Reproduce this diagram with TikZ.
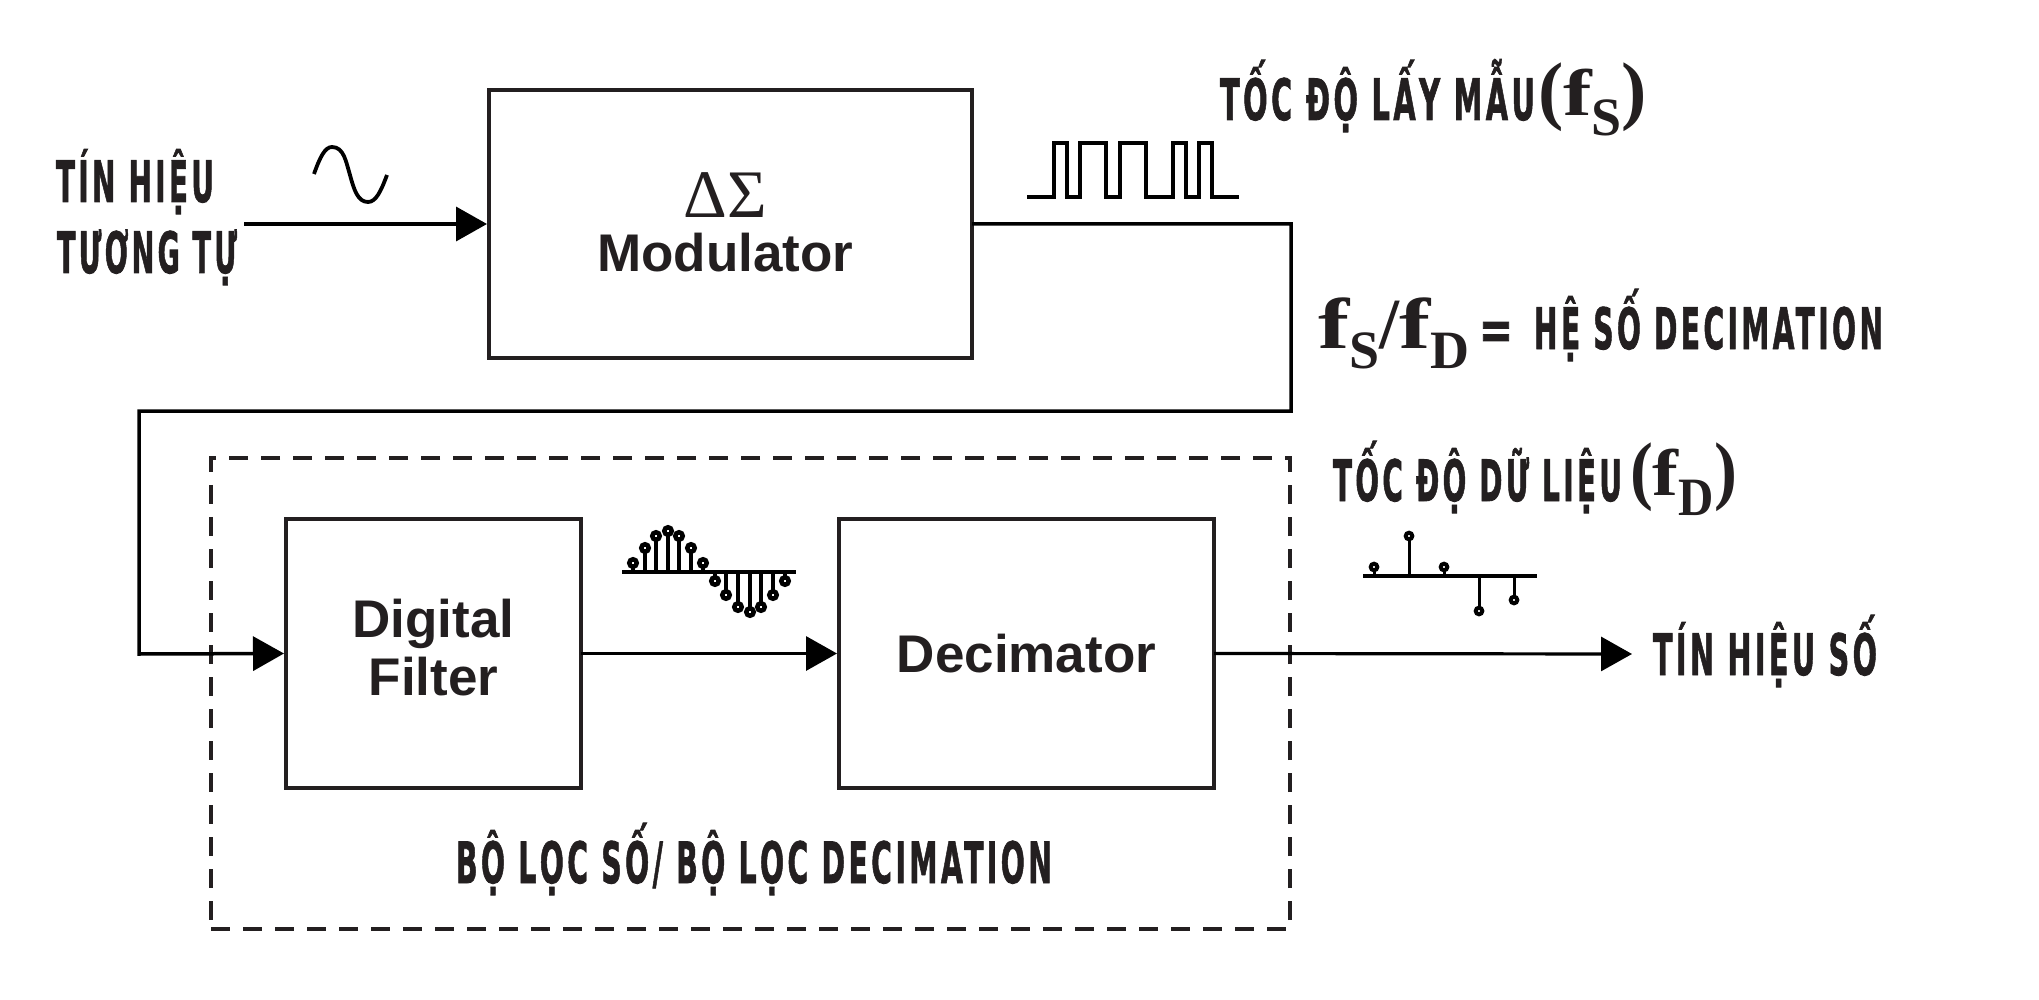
\documentclass[tikz,border=0pt]{standalone}
\usepackage{fontspec}
\usetikzlibrary{arrows.meta}
\setmainfont{Liberation Sans}
\newfontfamily\condfont[LetterSpace=12,FakeBold=1.6]{DejaVu Sans Bold}
\newfontfamily\serifreg{Liberation Serif}
\newfontfamily\serifbold{Liberation Serif Bold}
\definecolor{ink}{HTML}{231F20}
\newcommand{\cond}[2]{\resizebox{#1pt}{\height}{\condfont\fontsize{28.5}{30}\selectfont #2}}
\newcommand{\sfb}[2]{{\serifbold\fontsize{#1}{#1}\selectfont\scalebox{1.3}[1]{f}\raisebox{-10pt}{\fontsize{27}{27}\selectfont #2}}}
\tikzset{
  blockbox/.style={draw=ink,line width=1.6pt,outer sep=0pt,inner sep=0pt,align=center,text=ink,font=\bfseries\fontsize{26.5}{29}\selectfont},
  dashbox/.style={draw=ink,line width=1.7pt,outer sep=0pt,inner sep=0pt,dash pattern=on 9.6pt off 6.4pt},
  label/.style={text=ink,anchor=base west,inner sep=0pt,outer sep=0pt},
  wire/.style={line width=1.75pt,black},
  arrowed/.style={wire,-{Triangle[length=15.5pt,width=17pt]},shorten >=1pt},
  thinarrowed/.style={arrowed,line width=1.6pt},
  glyph/.style={line width=1.9pt,black},
  stemA/.style={line width=1.75pt,black},
  headA/.style={line width=2.25pt,black,fill=white},
  stemB/.style={line width=1.5pt,black},
  headB/.style={line width=2pt,black,fill=white}
}
\begin{document}
\begin{tikzpicture}[x=0.5pt,y=-0.5pt]
\useasboundingbox (0,0) rectangle (2039,1000);
% blocks
\node[dashbox,minimum width=539.5pt,minimum height=235.5pt] (dash) at (750.5,693.5) {};
\node[blockbox,minimum width=241.5pt,minimum height=134pt] (mod) at (730.5,224)
  {{\serifreg\mdseries\fontsize{34}{34}\selectfont ΔΣ\hspace*{5pt}}\\[-2pt]Modulator\hspace*{5pt}\rule[-1.5pt]{0pt}{0pt}};
\node[blockbox,minimum width=147.5pt,minimum height=134.5pt] (filt) at (433.5,653.5) {Digital\\[0pt]Filter\rule[-6.5pt]{0pt}{0pt}};
\node[blockbox,minimum width=187.5pt,minimum height=134.5pt] (dec) at (1026.5,653.5) {Decimator};
% connectors
\coordinate (ain) at (244,224);
\coordinate (c1) at (1291,224);
\coordinate (c2) at (1291,411);
\coordinate (c3) at (139,411);
\coordinate (c4) at (139,654);
\coordinate (sig) at (1634,654);
\draw[arrowed] (ain) -- (mod.west);
\draw[arrowed] (mod.east) -- (c1) -- (c2) -- (c3) -- (c4) -- (filt.west);
\draw[thinarrowed] (filt.east) -- (dec.west);
\draw[thinarrowed] (dec.east) -- (sig);
% labels
\node[label] (l1) at (56,202) {\cond{79}{TÍN HIỆU}};
\node[label] (l2) at (57,273) {\cond{90}{TƯƠNG TỰ}};
\node[label] (l3) at (1220,120) {\cond{157.5}{TỐC ĐỘ LẤY MẪU}};
\node[label] (l4) at (1333,501) {\cond{144.5}{TỐC ĐỘ DỮ LIỆU}};
\node[label] (l5) at (1534,349) {\cond{174.5}{HỆ SỐ DECIMATION}};
\node[label] (l6) at (1653,675) {\cond{112}{TÍN HIỆU SỐ}};
\node[label] (l7) at (456,883) {\cond{298}{BỘ LỌC SỐ/ BỘ LỌC DECIMATION}};
\node[label] (m1) at (1538,116) {{\serifbold\fontsize{38}{38}\selectfont(}\sfb{33}{S}{\serifbold\fontsize{38}{38}\selectfont)}};
\node[label] (m2) at (1630,495) {\resizebox{53.5pt}{\height}{{\serifbold\fontsize{38}{38}\selectfont(}\sfb{33}{D}{\serifbold\fontsize{38}{38}\selectfont)}}};
\node[label] (m3) at (1318,348) {\sfb{36}{S}{\serifbold\fontsize{36}{36}\selectfont/}\sfb{36}{D}};
\node[label] (eq) at (1479,349) {\resizebox{17pt}{\height}{\condfont\fontsize{28}{30}\selectfont =}};
% sine
\draw[glyph] (314,174) .. controls (320,157) and (325,147) .. (332,147)
  .. controls (344,147) and (346,162) .. (350,175)
  .. controls (354,190) and (358,202) .. (368,202)
  .. controls (376,202) and (381,191) .. (387,175);
% pulse train
\draw[glyph,line join=miter] (1027,197) -- (1054,197) -- (1054,143) -- (1067,143) -- (1067,197) -- (1080,197)
  -- (1080,143) -- (1106,143) -- (1106,197) -- (1120,197) -- (1120,143) -- (1146,143) -- (1146,197)
  -- (1173,197) -- (1173,143) -- (1186,143) -- (1186,197) -- (1199,197) -- (1199,143) -- (1212,143)
  -- (1212,197) -- (1239,197);
% sampled signal
\draw[glyph,line width=2pt] (622,572) -- (796,572);
\foreach \x/\y in {633/563,645/548,656/536,668/531,679/536,691/548,703/563,715/581,726/595,738/607,750/612,761/607,773/595,785/581}{
  \draw[stemA] (\x,572) -- (\x,\y);
  \draw[headA] (\x,\y) circle[radius=3.75];
}
% decimated signal
\draw[glyph,line width=1.7pt] (1363,576) -- (1537,576);
\foreach \x/\y in {1374/567,1409/536,1444/567,1479/611,1514/600}{
  \draw[stemB] (\x,576) -- (\x,\y);
  \draw[headB] (\x,\y) circle[radius=3.3];
}
\end{tikzpicture}
\end{document}
